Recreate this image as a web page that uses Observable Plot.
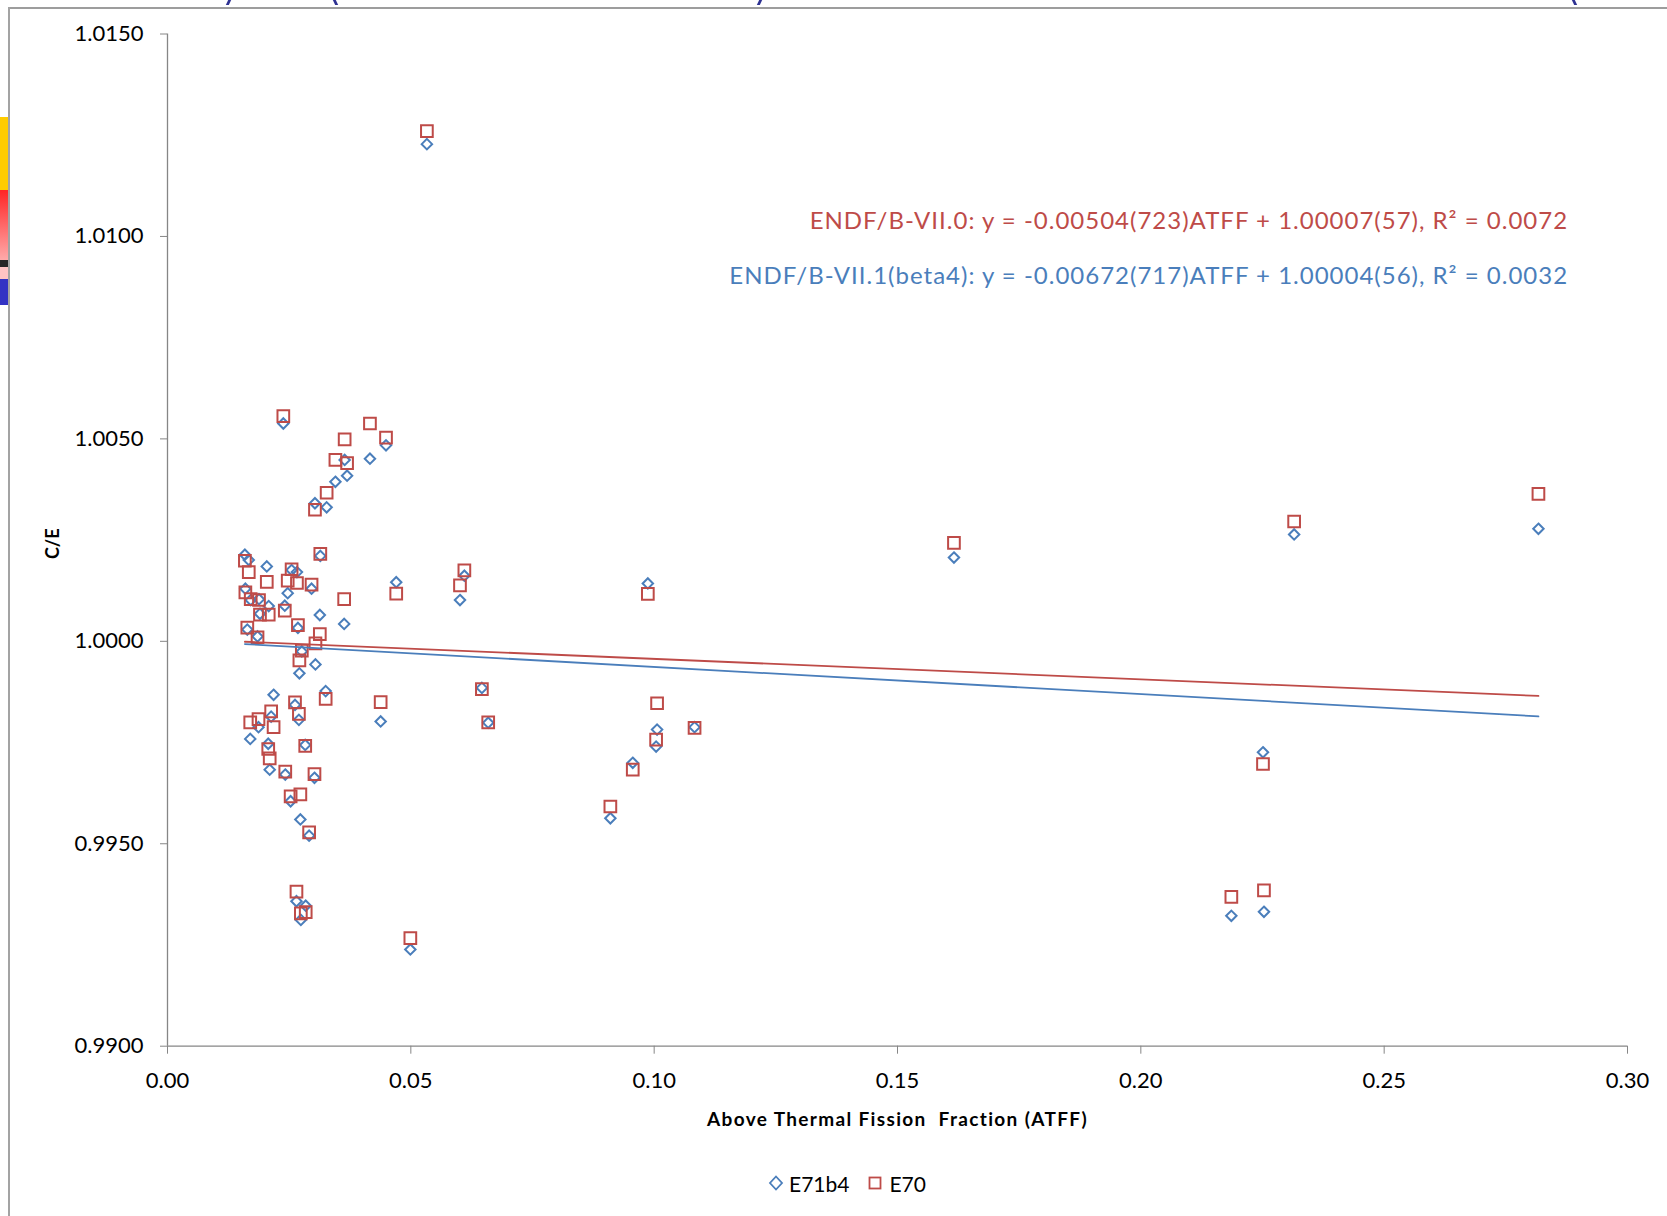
<!DOCTYPE html>
<html>
<head>
<meta charset="utf-8">
<script src="https://cdn.jsdelivr.net/npm/d3@7"></script>
<script src="https://cdn.jsdelivr.net/npm/@observablehq/plot@0.6"></script>
<style>
html, body { margin: 0; padding: 0; background: #fff; }
body { width: 1667px; height: 1216px; overflow: hidden; position: relative; font-family: Lato, sans-serif; }
#chart svg { display: block; }
.deco { position: absolute; }
#legend { height: 66px; display: flex; align-items: center; padding-left: 768px; font-size: 21px; color: #000; box-sizing: border-box; }
#legend svg { display: block; }
</style>
</head>
<body>
<div id="chart"></div>
<div id="legend"></div>
<script>
// ---- data ----
const atff = [
  0.2817, 0.2315, 0.2251, 0.2253, 0.2186, 0.1616, 0.1083, 0.1006, 0.1004, 0.0987,
  0.0956, 0.0910, 0.0659, 0.0646, 0.0610, 0.0601, 0.0533, 0.0499, 0.0470, 0.0438,
  0.0449, 0.0416, 0.0364, 0.0363, 0.0345, 0.0369, 0.0327, 0.0303, 0.0238, 0.0314,
  0.0159, 0.0167, 0.0204, 0.0255, 0.0266, 0.0247, 0.0296, 0.0160, 0.0171, 0.0188,
  0.0208, 0.0241, 0.0190, 0.0313, 0.0164, 0.0268, 0.0185, 0.0304, 0.0276, 0.0271,
  0.0218, 0.0325, 0.0262, 0.0213, 0.0270, 0.0187, 0.0170, 0.0207, 0.0210, 0.0283,
  0.0242, 0.0302, 0.0253, 0.0273, 0.0291, 0.0265, 0.0284, 0.0274
];
const e70 = [
  1.00364, 1.00296, 0.99697, 0.99385, 0.99369, 1.00243, 0.99786, 0.99847, 0.99757, 1.00117,
  0.99683, 0.99592, 0.99800, 0.99882, 1.00175, 1.00138, 1.01260, 0.99267, 1.00118, 0.99850,
  1.00503, 1.00538, 1.00499, 1.00104, 1.00448, 1.00440, 1.00367, 1.00325, 1.00556, 1.00216,
  1.00199, 1.00171, 1.00147, 1.00178, 1.00144, 1.00150, 1.00140, 1.00121, 1.00104, 1.00102,
  1.00066, 1.00076, 1.00066, 1.00018, 1.00034, 1.00040, 1.00010, 0.99995, 0.99977, 0.99953,
  0.99788, 0.99858, 0.99849, 0.99827, 0.99821, 0.99808, 0.99800, 0.99734, 0.99711, 0.99742,
  0.99678, 0.99672, 0.99617, 0.99622, 0.99528, 0.99382, 0.99331, 0.99328
];
const e71b4 = [
  1.00278, 1.00264, 0.99726, 0.99332, 0.99322, 1.00207, 0.99788, 0.99782, 0.99740, 1.00143,
  0.99700, 0.99563, 0.99799, 0.99885, 1.00162, 1.00102, 1.01228, 0.99239, 1.00146, 0.99802,
  1.00484, 1.00451, 1.00448, 1.00043, 1.00394, 1.00409, 1.00331, 1.00341, 1.00538, 1.00211,
  1.00214, 1.00201, 1.00185, 1.00176, 1.00171, 1.00119, 1.00130, 1.00130, 1.00102, 1.00104,
  1.00087, 1.00088, 1.00068, 1.00065, 1.00029, 1.00033, 1.00012, 0.99943, 0.99975, 0.99921,
  0.99868, 0.99877, 0.99843, 0.99814, 0.99806, 0.99788, 0.99759, 0.99747, 0.99683, 0.99744,
  0.99671, 0.99663, 0.99605, 0.99560, 0.99520, 0.99358, 0.99347, 0.99312
];
const seriesNames = ["E71b4", "E70"];
// trendline equations as printed on the chart: [E71b4, E70]
const fitSlope = [-0.00672, -0.00504];
const fitIntercept = [1.00004, 1.00007];
const fitLabels = [
  "ENDF/B-VII.1(beta4): y = -0.00672(717)ATFF + 1.00004(56), R² = 0.0032",
  "ENDF/B-VII.0: y = -0.00504(723)ATFF + 1.00007(57), R² = 0.0072"
];
const xTicks = [0, 0.05, 0.10, 0.15, 0.20, 0.25, 0.30];
const yTicks = [0.9900, 0.9950, 1.0000, 1.0050, 1.0100, 1.0150];
const xLabel = "Above Thermal Fission  Fraction (ATFF)";
const yLabel = "C/E";

// ---- derived tables ----
const rows = atff.map((x, i) => ({atff: x, e71b4: e71b4[i], e70: e70[i]}));
const [xmin, xmax] = d3.extent(atff);
const trend = seriesNames.flatMap((s, k) =>
  [xmin, xmax].map(x => ({series: s, x, y: fitIntercept[k] + fitSlope[k] * x})));

const BLUE = "#4A7EBB", RED = "#BE4B48", AXIS = "#868686";

const chart = Plot.plot({
  width: 1667,
  height: 1150,
  marginLeft: 167,
  marginRight: 40,
  marginTop: 33.5,
  marginBottom: 104.3,
  style: {fontFamily: "Lato, sans-serif", fontSize: "22px", color: "#000", background: "transparent"},
  x: {domain: [0, 0.3]},
  y: {domain: [0.99, 1.015]},
  color: {domain: seriesNames, range: [BLUE, RED]},
  marks: [
    Plot.axisY(yTicks, {tickFormat: d3.format(".4f"), tickSize: 7, tickPadding: 17, stroke: AXIS, fill: "#000", fontSize: 22, label: null}),
    Plot.axisX(xTicks, {tickFormat: d3.format(".2f"), tickSize: 8, tickPadding: 18, stroke: AXIS, fill: "#000", fontSize: 22, label: null}),
    Plot.ruleX([0], {stroke: AXIS, strokeWidth: 1.3}),
    Plot.ruleY([0.99], {stroke: AXIS, strokeWidth: 1.3}),
    Plot.text([yLabel], {frameAnchor: "left", rotate: -90, dx: -114.5, dy: 19, fontWeight: "bold", fontSize: 18, fill: "#000"}),
    Plot.text([xLabel], {frameAnchor: "bottom", dy: 73.3, lineAnchor: "middle", fontWeight: "bold", fontSize: 19, fill: "#000"}),
    Plot.dot(rows, {x: "atff", y: "e71b4", symbol: "diamond2", r: 4.7, stroke: BLUE, strokeWidth: 2, fill: "none"}),
    Plot.dot(rows, {x: "atff", y: "e70", symbol: "square", r: 6.6, stroke: RED, strokeWidth: 2, fill: "none"}),
    Plot.line(trend, {x: "x", y: "y", z: "series", stroke: "series", strokeWidth: 1.8}),
    Plot.text([fitLabels[1]], {frameAnchor: "top-right", textAnchor: "end", lineAnchor: "middle", dx: -59.4, dy: 187, fontSize: 24, fill: RED}),
    Plot.text([fitLabels[0]], {frameAnchor: "top-right", textAnchor: "end", lineAnchor: "middle", dx: -59.4, dy: 242, fontSize: 24, fill: BLUE})
  ]
});
// slightly wider letter spacing to match the reference's text widths
chart.querySelectorAll("text").forEach(t => {
  const s = t.textContent;
  if (s === xLabel) t.style.letterSpacing = "1.35px";
  else if (fitLabels.includes(s)) t.style.letterSpacing = "1px";
});
document.getElementById("chart").append(chart);

// ---- legend (below the chart) ----
const legend = document.getElementById("legend");
const legendSym = [
  `<svg width="16" height="16" viewBox="0 0 16 16"><polygon points="8,1.5 14,8 8,14.5 2,8" fill="none" stroke="${BLUE}" stroke-width="1.8"/></svg>`,
  `<svg width="14" height="14" viewBox="0 0 14 14"><rect x="1.5" y="1.5" width="11" height="11" fill="none" stroke="${RED}" stroke-width="1.8"/></svg>`
];
seriesNames.forEach((s, k) => {
  const sym = document.createElement("span");
  sym.innerHTML = legendSym[k];
  sym.style.marginRight = k === 0 ? "5px" : "7px";
  sym.style.marginLeft = k === 0 ? "0" : "19px";
  const t = document.createElement("span");
  t.textContent = s;
  legend.append(sym, t);
});

// ---- slide decorations around the chart (cropped slide frame) ----
function deco(css) { const d = document.createElement("div"); d.className = "deco"; Object.assign(d.style, css); document.body.append(d); }
deco({left: "8px", top: "7px", width: "1659px", height: "2px", background: "#9d9d9d"});
deco({left: "7.5px", top: "7px", width: "2px", height: "1209px", background: "#a3a3a3"});
deco({left: "0", top: "117px", width: "8px", height: "73px", background: "#FFCC00"});
deco({left: "0", top: "190px", width: "8px", height: "70px", background: "linear-gradient(#FF2626, #FFAAAA)"});
deco({left: "0", top: "260px", width: "8px", height: "7px", background: "#262626"});
deco({left: "0", top: "267px", width: "8px", height: "12px", background: "#FFC4C4"});
deco({left: "0", top: "279px", width: "8px", height: "26px", background: "#3333C4"});
// bottoms of the cut-off slide title glyphs
[[227, -25], [334, 25], [758, -25], [1573, 25]].forEach(([l, sk]) =>
  deco({left: l + "px", top: "0", width: "3px", height: "5px", background: "#2E3192", transform: `skewX(${sk}deg)`}));
</script>
</body>
</html>
